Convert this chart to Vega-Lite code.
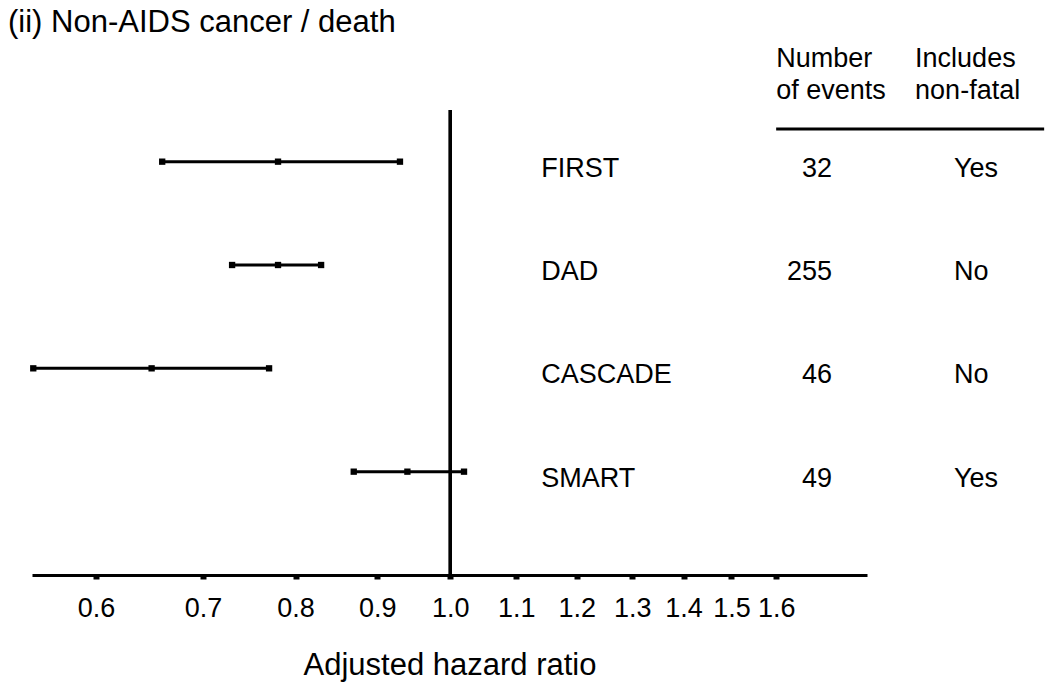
{
  "$schema": "https://vega.github.io/schema/vega-lite/v6.json",
  "autosize": "none",
  "width": 835,
  "height": 465,
  "padding": {"left": 32, "top": 110, "right": 183, "bottom": 121},
  "background": "white",
  "config": {"view": {"stroke": null}, "font": "Liberation Sans"},
  "title": {
    "text": "(ii) Non-AIDS cancer / death",
    "anchor": "start",
    "frame": "group",
    "dx": -24,
    "offset": 6,
    "fontSize": 31,
    "fontWeight": "normal",
    "font": "Liberation Sans",
    "color": "black"
  },
  "data": {
    "values": [
      {"study": "FIRST", "row": 1, "hr": 0.78, "lo": 0.66, "hi": 0.93, "events": 32, "nonfatal": "Yes"},
      {"study": "DAD", "row": 2, "hr": 0.78, "lo": 0.73, "hi": 0.83, "events": 255, "nonfatal": "No"},
      {"study": "CASCADE", "row": 3, "hr": 0.65, "lo": 0.548, "hi": 0.77, "events": 46, "nonfatal": "No"},
      {"study": "SMART", "row": 4, "hr": 0.94, "lo": 0.87, "hi": 1.02, "events": 49, "nonfatal": "Yes"}
    ]
  },
  "layer": [
    {
      "mark": {"type": "rule", "color": "black", "strokeWidth": 3},
      "encoding": {
        "y": {"field": "row", "type": "quantitative", "scale": {"domain": [0.5, 5], "reverse": true, "nice": false, "zero": false}, "axis": null},
        "x": {
          "field": "lo",
          "type": "quantitative",
          "scale": {"type": "log", "domain": [0.547, 1.824], "nice": false},
          "axis": {
            "values": [0.6, 0.7, 0.8, 0.9, 1.0, 1.1, 1.2, 1.3, 1.4, 1.5, 1.6],
            "format": ".1f",
            "grid": false,
            "domainColor": "black",
            "domainWidth": 3,
            "tickColor": "black",
            "tickWidth": 6,
            "tickSize": 4,
            "labelFontSize": 27,
            "labelColor": "black",
            "labelPadding": 16,
            "labelFont": "Liberation Sans",
            "title": "Adjusted hazard ratio",
            "titleFontSize": 31,
            "titleFontWeight": "normal",
            "titleColor": "black",
            "titleFont": "Liberation Sans",
            "titlePadding": 29
          }
        },
        "x2": {"field": "hi"}
      }
    },
    {
      "transform": [{"fold": ["lo", "hr", "hi"], "as": ["kind", "value"]}],
      "mark": {"type": "point", "shape": "square", "filled": true, "color": "black", "size": 40, "opacity": 1},
      "encoding": {
        "x": {"field": "value", "type": "quantitative"},
        "y": {"field": "row", "type": "quantitative"}
      }
    },
    {
      "mark": {"type": "rule", "color": "black", "strokeWidth": 3},
      "encoding": {"x": {"datum": 1}}
    },
    {
      "mark": {"type": "text", "align": "left", "baseline": "middle", "dy": 7, "fontSize": 27, "color": "black"},
      "encoding": {"x": {"datum": 1.14}, "y": {"field": "row", "type": "quantitative"}, "text": {"field": "study"}}
    },
    {
      "mark": {"type": "text", "align": "right", "baseline": "middle", "dy": 7, "fontSize": 27, "color": "black"},
      "encoding": {"x": {"datum": 1.7345}, "y": {"field": "row", "type": "quantitative"}, "text": {"field": "events"}}
    },
    {
      "mark": {"type": "text", "align": "left", "baseline": "middle", "dy": 7, "fontSize": 27, "color": "black"},
      "encoding": {"x": {"datum": 2.068}, "y": {"field": "row", "type": "quantitative"}, "text": {"field": "nonfatal"}}
    },
    {
      "data": {"values": [{"header": "events"}]},
      "mark": {"type": "text", "align": "left", "baseline": "alphabetic", "fontSize": 27, "lineHeight": 31.5, "color": "black"},
      "encoding": {"x": {"datum": 1.6}, "y": {"datum": 0.084}, "text": {"value": ["Number", "of events"]}}
    },
    {
      "data": {"values": [{"header": "nonfatal"}]},
      "mark": {"type": "text", "align": "left", "baseline": "alphabetic", "fontSize": 27, "lineHeight": 31.5, "color": "black"},
      "encoding": {"x": {"datum": 1.955}, "y": {"datum": 0.084}, "text": {"value": ["Includes", "non-fatal"]}}
    },
    {
      "data": {"values": [{"header": "rule"}]},
      "mark": {"type": "rule", "color": "black", "strokeWidth": 3},
      "encoding": {"x": {"datum": 1.6}, "x2": {"datum": 2.355}, "y": {"datum": 0.684}}
    }
  ]
}
